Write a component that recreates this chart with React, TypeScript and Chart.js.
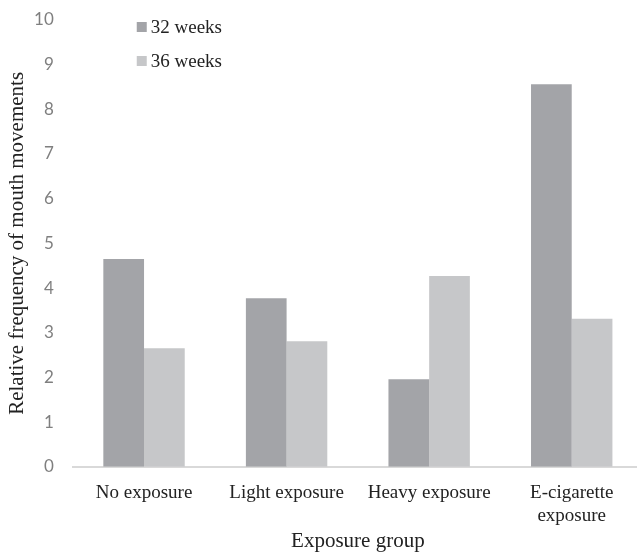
import React, { useEffect, useRef } from "react";
import { Chart, registerables } from "chart.js";

Chart.register(...registerables);

const categories: (string | string[])[] = [
  "No exposure",
  "Light exposure",
  "Heavy exposure",
  ["E-cigarette", "exposure"],
];
const weeks32 = [4.65, 3.77, 1.96, 8.56];
const weeks36 = [2.65, 2.81, 4.27, 3.31];
const seriesLabels = ["32 weeks", "36 weeks"];
const seriesColors = ["#a3a4a8", "#c6c7c9"];
const yTicks = [0, 1, 2, 3, 4, 5, 6, 7, 8, 9, 10];

const SERIF = "'Liberation Serif', 'Times New Roman', serif";

const legendPlugin = {
  id: "insideLegend",
  afterDraw(chart: any) {
    const ctx = chart.ctx;
    const area = chart.chartArea;
    ctx.save();
    chart.data.datasets.forEach((ds: any, i: number) => {
      const x = area.left + 64;
      const y = 27 + i * 34;
      ctx.fillStyle = ds.backgroundColor;
      ctx.fillRect(x, y - 5, 10, 10);
      ctx.fillStyle = "#222222";
      ctx.font = `19px ${SERIF}`;
      ctx.textBaseline = "middle";
      ctx.textAlign = "left";
      ctx.fillText(ds.label, x + 14, y + 1);
    });
    ctx.restore();
  },
};

export default function App() {
  const ref = useRef<HTMLCanvasElement | null>(null);
  useEffect(() => {
    if (!ref.current) return;
    const chart = new Chart(ref.current, {
      type: "bar",
      data: {
        labels: categories,
        datasets: [
          { label: seriesLabels[0], data: weeks32, backgroundColor: seriesColors[0] },
          { label: seriesLabels[1], data: weeks36, backgroundColor: seriesColors[1] },
        ],
      },
      options: {
        animation: false,
        responsive: true,
        maintainAspectRatio: false,
        layout: { padding: { top: 20, right: 0, bottom: 0, left: 0 } },
        datasets: { bar: { categoryPercentage: 0.571, barPercentage: 1 } },
        plugins: {
          legend: { display: false },
          tooltip: { enabled: false },
        },
        scales: {
          x: {
            afterFit(scale: any) {
              scale.height = 87.3;
              scale.paddingTop = 0;
            },
            grid: { display: false, drawTicks: false },
            border: { display: true, color: "#d9d9d9", width: 2 },
            ticks: {
              color: "#222222",
              font: { family: SERIF, size: 19, lineHeight: 1.25 },
              padding: 14,
              maxRotation: 0,
              autoSkip: false,
            },
            title: {
              display: true,
              text: "Exposure group",
              color: "#222222",
              font: { family: SERIF, size: 21, lineHeight: 1.2 },
              padding: { top: 0, bottom: 0 },
            },
          },
          y: {
            min: 0,
            max: 10,
            afterFit(scale: any) {
              scale.width = 72.75;
              scale.paddingTop = 0;
              scale.paddingBottom = 0;
            },
            afterBuildTicks(scale: any) {
              scale.ticks = yTicks.map((v) => ({ value: v }));
            },
            grid: { display: false, drawTicks: false },
            border: { display: false },
            ticks: {
              color: "#7f7f7f",
              font: { family: "Lato, 'Open Sans', sans-serif", size: 17 },
              padding: 19,
            },
            title: {
              display: true,
              text: "Relative frequency of mouth movements",
              color: "#222222",
              font: { family: SERIF, size: 21, lineHeight: 1.2 },
              padding: { top: 5, bottom: 0 },
            },
          },
        },
      },
      plugins: [legendPlugin],
    });
    return () => chart.destroy();
  }, []);

  return (
    <div
      style={{
        position: "fixed",
        left: 0,
        top: 0,
        width: 637,
        height: 554,
        overflow: "hidden",
        background: "#ffffff",
      }}
    >
      <div style={{ position: "absolute", left: 0, top: 0, width: 643, height: 554 }}>
        <canvas ref={ref} />
      </div>
    </div>
  );
}
